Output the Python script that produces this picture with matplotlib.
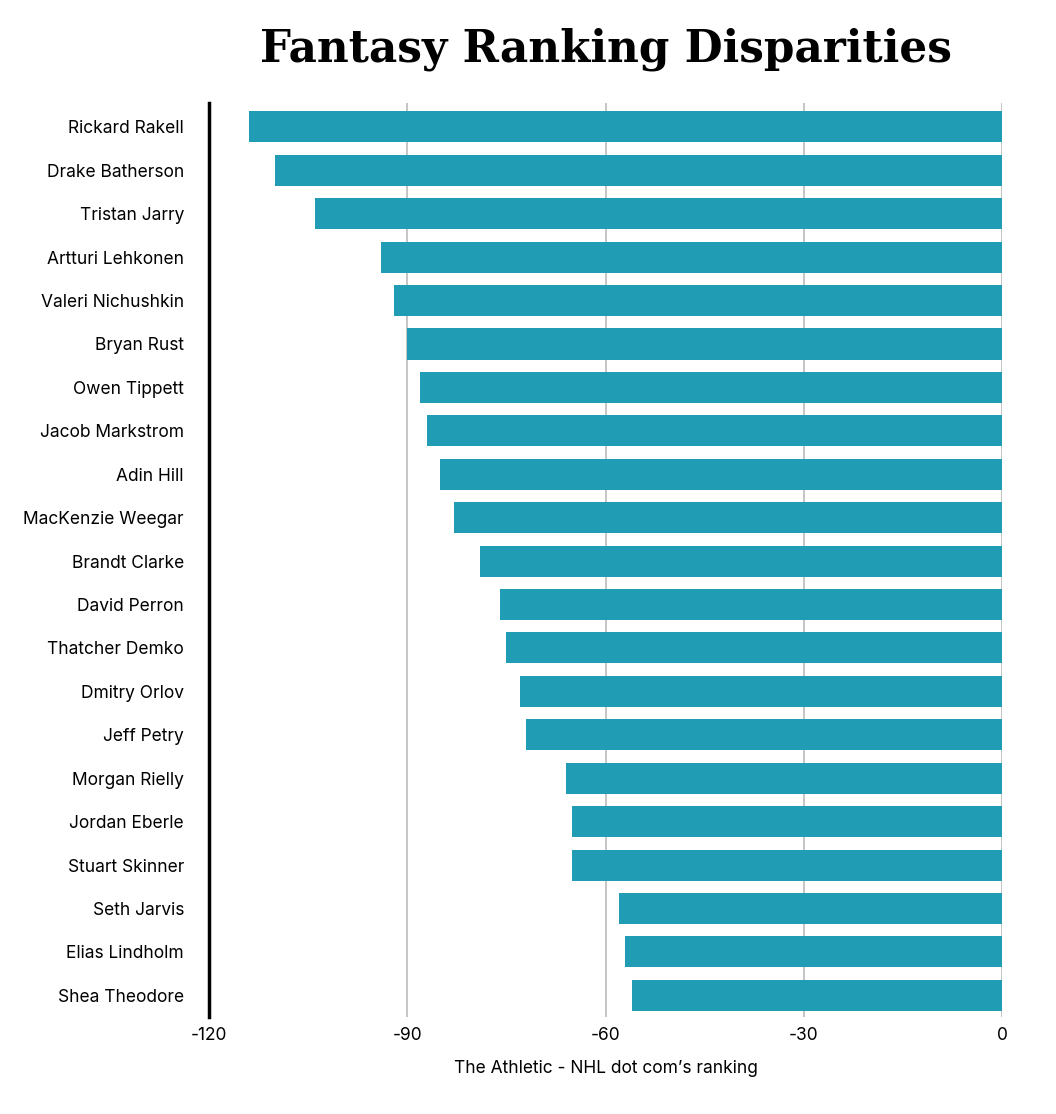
import matplotlib.pyplot as plt

players = [
    "Rickard Rakell", "Drake Batherson", "Tristan Jarry", "Artturi Lehkonen",
    "Valeri Nichushkin", "Bryan Rust", "Owen Tippett", "Jacob Markstrom",
    "Adin Hill", "MacKenzie Weegar", "Brandt Clarke", "David Perron",
    "Thatcher Demko", "Dmitry Orlov", "Jeff Petry", "Morgan Rielly",
    "Jordan Eberle", "Stuart Skinner", "Seth Jarvis", "Elias Lindholm",
    "Shea Theodore",
]
disparity = [
    -114, -110, -104, -94, -92, -90, -88, -87, -85, -83, -79,
    -76, -75, -73, -72, -66, -65, -65, -58, -57, -56,
]
x_ticks = [-120, -90, -60, -30, 0]

plt.rcParams["font.family"] = ["Inter", "DejaVu Sans"]

fig = plt.figure(figsize=(10.56, 11.14), dpi=100)
ax = fig.add_axes([209 / 1056, 1 - 1017 / 1114, 793 / 1056, 914 / 1114])

y = list(range(len(players)))
ax.barh(y, disparity, height=0.715, color="#209db5", zorder=2)

ax.set_xlim(-120, 0)
ax.set_ylim(len(players) - 0.5, -0.55)
ax.set_yticks(y)
ax.set_yticklabels(players, fontsize=12.5)
ax.set_xticks(x_ticks)
ax.set_xticklabels([str(t) for t in x_ticks], fontsize=12.5)
ax.tick_params(axis="y", length=0, pad=18)
ax.tick_params(axis="x", length=0, pad=7)
ax.grid(axis="x", color="#bbbbbb", linewidth=1.2, zorder=0)

for side in ["top", "right", "bottom"]:
    ax.spines[side].set_visible(False)
ax.spines["left"].set_linewidth(2.5)
ax.spines["left"].set_color("black")
ax.spines["left"].set_zorder(3)

ax.set_xlabel("The Athletic - NHL dot com\u2019s ranking", fontsize=12.5, labelpad=12)

fig.text(0.574, 0.956, "Fantasy Ranking Disparities", ha="center", va="center",
         fontsize=31.5, fontweight="heavy", family=["DejaVu Serif"])

fig.savefig("out.png", dpi=100, facecolor="white")
